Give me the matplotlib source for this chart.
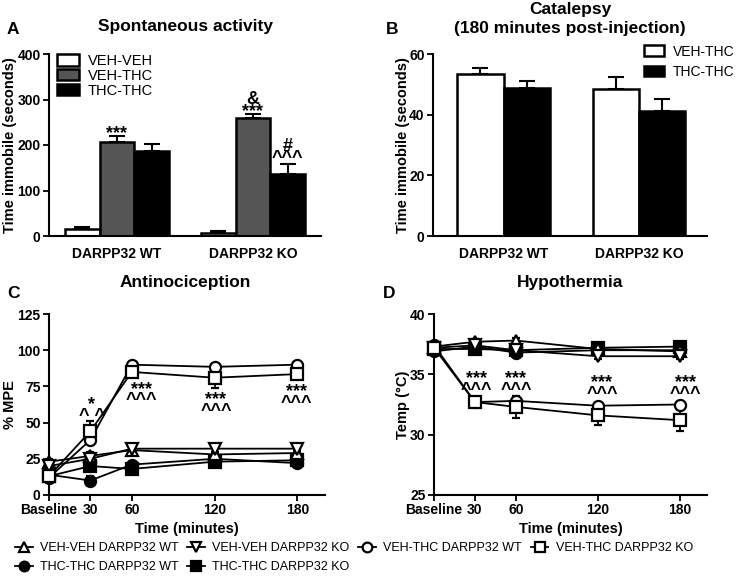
import numpy as np
import matplotlib
matplotlib.use('Agg')
import matplotlib.pyplot as plt
from matplotlib.lines import Line2D

plt.rcParams['font.family'] = ['Liberation Sans', 'DejaVu Sans']

W, H = 739, 576

# ---- A: spontaneous activity (time immobile, s) ----
groups = ['DARPP32 WT', 'DARPP32 KO']
a_vehveh = [15, 7]
a_vehveh_err = [5, 3]
a_vehthc = [206, 259]
a_vehthc_err = [14, 9]
a_thcthc = [187, 136]
a_thcthc_err = [15, 22]

# ---- B: catalepsy at 180 min ----
b_vehthc = [53.4, 48.4]
b_vehthc_err = [2.1, 3.9]
b_thcthc = [48.7, 41.3]
b_thcthc_err = [2.5, 3.9]

# ---- C/D: time course ----
times = [0, 30, 60, 120, 180]
time_labels = ['Baseline', '30', '60', '120', '180']

c_vv_wt = [23, 27, 31, 28, 29]
c_vv_ko = [20, 25, 32, 32, 32]
c_vt_wt = [12, 38, 90, 88.5, 90]
c_vt_ko = [13, 44, 85, 81, 83.5]
c_tt_wt = [14, 10, 21, 25, 22]
c_tt_ko = [13, 20, 18, 23, 24]
c_vt_ko_err = [2, 7, 3, 7, 3]
c_small_err = [2, 3, 2, 2, 2]

d_vv_wt = [37.3, 37.7, 37.8, 37.1, 36.9]
d_vv_ko = [37.2, 37.4, 37.0, 36.5, 36.5]
d_vt_wt = [37.4, 32.7, 32.8, 32.4, 32.5]
d_vt_ko = [37.2, 32.7, 32.3, 31.6, 31.2]
d_tt_wt = [36.9, 37.3, 36.8, 37.0, 37.0]
d_tt_ko = [37.1, 37.1, 37.0, 37.2, 37.3]
d_vt_ko_err = [0.3, 0.3, 0.9, 0.8, 0.9]
d_small_err = [0.3, 0.2, 0.2, 0.2, 0.2]


def px(x0, y0, x1, y1):
    return [x0 / W, 1 - y1 / H, (x1 - x0) / W, (y1 - y0) / H]


def style_axes(ax):
    ax.spines['top'].set_visible(False)
    ax.spines['right'].set_visible(False)
    ax.spines['left'].set_linewidth(1.5)
    ax.spines['bottom'].set_linewidth(1.5)
    ax.tick_params(width=1.3, length=4, pad=2, labelsize=10)
    for lab in ax.get_xticklabels() + ax.get_yticklabels():
        lab.set_fontweight('bold')


def sig(ax, x, y, s, size=13):
    # significance marks, stacked lines kept in one text
    ax.text(x, y, s, ha='center', va='center', fontsize=size, fontweight='bold',
            linespacing=0.6, multialignment='center')


fig = plt.figure(figsize=(W / 100, H / 100), dpi=100)

bar_kw = dict(edgecolor='black', linewidth=1.8, zorder=2)
err_kw = dict(fmt='none', ecolor='black', elinewidth=1.5, capsize=6, capthick=1.5, zorder=1)

# ---------------- A ----------------
axA = fig.add_axes(px(49, 54, 321, 236))
x = np.arange(len(groups))
w = 0.255
axA.bar(x - w, a_vehveh, w, color='white', label='VEH-VEH', **bar_kw)
axA.bar(x, a_vehthc, w, color='#555555', label='VEH-THC', **bar_kw)
axA.bar(x + w, a_thcthc, w, color='black', label='THC-THC', **bar_kw)
axA.errorbar(x - w, a_vehveh, yerr=[[0, 0], a_vehveh_err], **err_kw)
axA.errorbar(x, a_vehthc, yerr=[[0, 0], a_vehthc_err], **err_kw)
axA.errorbar(x + w, a_thcthc, yerr=[[0, 0], a_thcthc_err], **err_kw)
axA.set_xlim(-0.5, 1.5)
axA.set_ylim(0, 400)
axA.set_yticks([0, 100, 200, 300, 400])
axA.set_xticks(x)
axA.set_xticklabels(groups)
style_axes(axA)
axA.tick_params(axis='x', length=0, pad=8)
axA.set_ylabel('Time immobile (seconds)', fontsize=10.5, fontweight='bold')
axA.yaxis.set_label_coords((17 - 49) / 272, 0.5)
axA.legend(loc='upper left', bbox_to_anchor=(44 / W, 1 - 41 / H), bbox_transform=fig.transFigure,
           frameon=False, fontsize=10.5, handlelength=1.5, handleheight=0.8,
           labelspacing=0.05, handletextpad=0.6)
sig(axA, x[0], 225, '***')
sig(axA, x[1], 287, '&\n***')
sig(axA, x[1] + w, 184, '#\n^^^')

# ---------------- B ----------------
axB = fig.add_axes(px(433, 54, 707, 236))
wb = 0.34
axB.bar(x - wb / 2, b_vehthc, wb, color='white', label='VEH-THC', **bar_kw)
axB.bar(x + wb / 2, b_thcthc, wb, color='black', label='THC-THC', **bar_kw)
axB.errorbar(x - wb / 2, b_vehthc, yerr=[[0, 0], b_vehthc_err], **err_kw)
axB.errorbar(x + wb / 2, b_thcthc, yerr=[[0, 0], b_thcthc_err], **err_kw)
axB.set_xlim(-0.52, 1.5)
axB.set_ylim(0, 60)
axB.set_yticks([0, 20, 40, 60])
axB.set_xticks(x)
axB.set_xticklabels(groups)
style_axes(axB)
axB.tick_params(axis='x', length=0, pad=8)
axB.set_ylabel('Time immobile (seconds)', fontsize=10.5, fontweight='bold')
axB.yaxis.set_label_coords((410 - 433) / 274, 0.5)
axB.legend(loc='upper left', bbox_to_anchor=(631 / W, 1 - 32 / H), bbox_transform=fig.transFigure,
           frameon=False, fontsize=10, handlelength=1.5, handleheight=0.8,
           labelspacing=0.45, handletextpad=0.6)


# ---------------- C & D ----------------
def plot_series(ax, y, err, marker, face):
    ax.errorbar(times, y, yerr=err, color='black', marker=marker, markersize=8,
                markerfacecolor=face, markeredgecolor='black', markeredgewidth=1.6,
                linewidth=1.3, elinewidth=1.3, capsize=3, capthick=1.3,
                clip_on=False, zorder=3)


axC = fig.add_axes(px(49, 314, 325, 495))
plot_series(axC, c_tt_wt, c_small_err, 'o', 'black')
plot_series(axC, c_tt_ko, c_small_err, 's', 'black')
plot_series(axC, c_vv_wt, c_small_err, '^', 'white')
plot_series(axC, c_vv_ko, c_small_err, 'v', 'white')
plot_series(axC, c_vt_wt, c_small_err, 'o', 'white')
plot_series(axC, c_vt_ko, c_vt_ko_err, 's', 'white')
axC.set_xlim(0, 200)
axC.set_ylim(0, 125)
axC.set_yticks([0, 25, 50, 75, 100, 125])
axC.set_xticks(times)
axC.set_xticklabels(time_labels)
style_axes(axC)
axC.set_ylabel('% MPE', fontsize=10.5, fontweight='bold')
axC.yaxis.set_label_coords((17 - 49) / 276, 0.5)
axC.set_xlabel('Time (minutes)', fontsize=10.5, fontweight='bold', labelpad=3)
sig(axC, 31, 58.5, '*\n^ ^')
for tx, ty in [(67, 69), (121, 62), (179, 67.5)]:
    sig(axC, tx, ty, '***\n^^^')

axD = fig.add_axes(px(434, 314, 707, 495))
plot_series(axD, d_tt_wt, d_small_err, 'o', 'black')
plot_series(axD, d_tt_ko, d_small_err, 's', 'black')
plot_series(axD, d_vv_wt, d_small_err, '^', 'white')
plot_series(axD, d_vv_ko, d_small_err, 'v', 'white')
plot_series(axD, d_vt_wt, d_small_err, 'o', 'white')
plot_series(axD, d_vt_ko, d_vt_ko_err, 's', 'white')
axD.set_xlim(0, 200)
axD.set_ylim(25, 40)
axD.set_yticks([25, 30, 35, 40])
axD.set_xticks(times)
axD.set_xticklabels(time_labels)
style_axes(axD)
axD.set_ylabel('Temp (\u00b0C)', fontsize=10.5, fontweight='bold')
axD.yaxis.set_label_coords((410 - 434) / 273, 0.5)
axD.set_xlabel('Time (minutes)', fontsize=10.5, fontweight='bold', labelpad=3)
for tx, ty in [(31, 34.15), (60, 34.15), (123, 33.8), (184, 33.8)]:
    sig(axD, tx, ty, '***\n^^^')

# ---- titles and panel letters ----
fig.text(185 / W, 1 - 27 / H, 'Spontaneous activity', ha='center', va='center',
         fontsize=12.5, fontweight='bold')
fig.text(570 / W, 1 - 19 / H, 'Catalepsy\n(180 minutes post-injection)', ha='center',
         va='center', fontsize=12.5, fontweight='bold', linespacing=1.4)
fig.text(185 / W, 1 - 283 / H, 'Antinociception', ha='center', va='center',
         fontsize=12.5, fontweight='bold')
fig.text(570 / W, 1 - 283 / H, 'Hypothermia', ha='center', va='center',
         fontsize=12.5, fontweight='bold')
for lx, ly, letter in [(7, 29, 'A'), (386, 29, 'B'), (7, 293, 'C'), (383, 293, 'D')]:
    fig.text(lx / W, 1 - ly / H, letter, ha='left', va='center', fontsize=12.5,
             fontweight='bold')


# ---- shared legend at the bottom ----
def handle(marker, face, label):
    return Line2D([0], [0], color='black', marker=marker, markersize=7,
                  markerfacecolor=face, markeredgecolor='black', markeredgewidth=1.6,
                  linewidth=1.3, label=label)


handles = [
    handle('^', 'white', 'VEH-VEH DARPP32 WT'),
    handle('o', 'black', 'THC-THC DARPP32 WT'),
    handle('v', 'white', 'VEH-VEH DARPP32 KO'),
    handle('s', 'black', 'THC-THC DARPP32 KO'),
    handle('o', 'white', 'VEH-THC DARPP32 WT'),
    handle('s', 'white', 'VEH-THC DARPP32 KO'),
]
fig.legend(handles=handles, loc='upper left', bbox_to_anchor=(10 / W, 1 - 537 / H),
           ncol=4, frameon=False, fontsize=9, handlelength=1.4, handletextpad=0.6,
           columnspacing=0.7, labelspacing=0.6, borderaxespad=0)

fig.savefig('out.png', dpi=100)
